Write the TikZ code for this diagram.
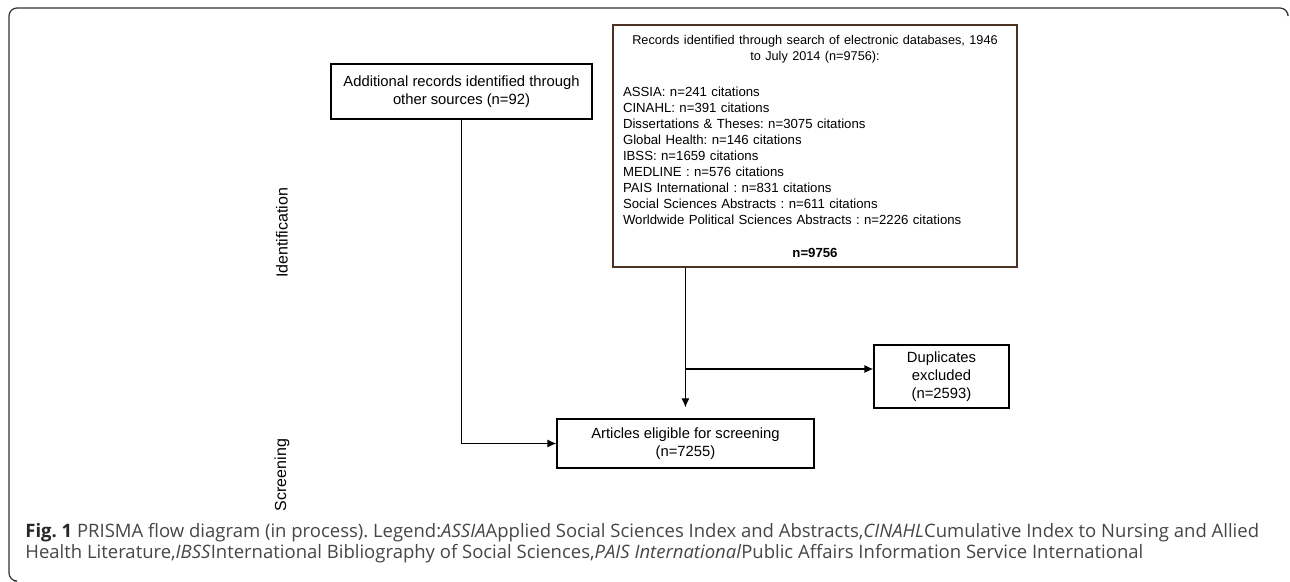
\documentclass[tikz,border=0pt]{standalone}
\usepackage{fontspec}
\setmainfont{Liberation Sans}
\newfontfamily\capfont{Open Sans}
\usetikzlibrary{arrows.meta,positioning}
\definecolor{recedge}{RGB}{75,50,35}
\definecolor{capgray}{RGB}{70,70,70}
\tikzset{
  box/.style={draw,line width=0.6pt,align=center,inner sep=0pt,font=\fontsize{7.4}{9}\selectfont},
  side/.style={rotate=90,inner sep=0pt,font=\fontsize{8}{9}\selectfont},
  flow/.style={line width=0.6pt},
}
\frenchspacing
\begin{document}
\begin{tikzpicture}[x=0.5pt,y=-0.5pt,>={Latex[length=4.5pt,width=4pt]}]
\useasboundingbox (0,0) rectangle (1290,582);
% khung ngoai
\draw[line width=0.6pt,black!80,rounded corners=4pt] (1288,14) -- (1288,8) -- (9,8) -- (9,581) -- (14,581);
% cac hop
\node[box,minimum width=130.5pt,minimum height=27.5pt] (add) at (461.5,91.5) {Additional records identified through\\other sources (n=92)};
\node[box,draw=recedge,align=left,text width=192pt,inner xsep=5pt,minimum height=121pt,font=\fontsize{6.6}{8}\selectfont] (rec) at (815,146)
  {{\centering\fontsize{6.35}{8}\selectfont Records identified through search of electronic databases, 1946\\to July 2014 (n=9756):\par}
   \vspace{10pt}
   ASSIA: n=241 citations\\
   CINAHL: n=391 citations\\
   Dissertations \& Theses: n=3075 citations\\
   Global Health: n=146 citations\\
   IBSS: n=1659 citations\\
   MEDLINE : n=576 citations\\
   PAIS International : n=831 citations\\
   Social Sciences Abstracts : n=611 citations\\
   Worldwide Political Sciences Abstracts : n=2226 citations\par
   \vspace{8.5pt}
   {\centering\textbf{n=9756}\par}};
\node[box,minimum width=67.5pt,minimum height=31.5pt] (dup) at (941.5,376.5) {Duplicates\\excluded\\(n=2593)};
\node[box,minimum width=128.5pt,minimum height=24.5pt] (art) at (685.5,443.5) {Articles eligible for screening\\(n=7255)};
% nhan doc
\node[side] (ident) at (282,233) {Identification};
\node[side] (screen) at (282,475) {Screening};
% duong noi
\coordinate (recout) at ([xshift=36.5pt]rec.south west);
\coordinate (branch) at (recout |- 0,369);
\draw[flow] (recout) -- (branch);
\draw[flow,->,shorten >=5.5pt] (branch) -- (branch |- art.north);
\draw[flow,->] (branch) -- (branch -| dup.west);
\draw[flow,->] (add.south) |- (art.west);
% chu thich
\node[anchor=base west,inner sep=0pt,align=left,text=capgray,font=\capfont\fontsize{9.25}{10.5}\selectfont] (cap) at (25,558)
  {{\bfseries\color{black!85}Fig. 1} PRISMA flow diagram (in process). Legend:\textit{ASSIA}Applied Social Sciences Index and Abstracts,\textit{CINAHL}Cumulative Index to Nursing and Allied\\
   Health Literature,\textit{IBSS}International Bibliography of Social Sciences,\textit{PAIS International}Public Affairs Information Service International};
\end{tikzpicture}
\end{document}
